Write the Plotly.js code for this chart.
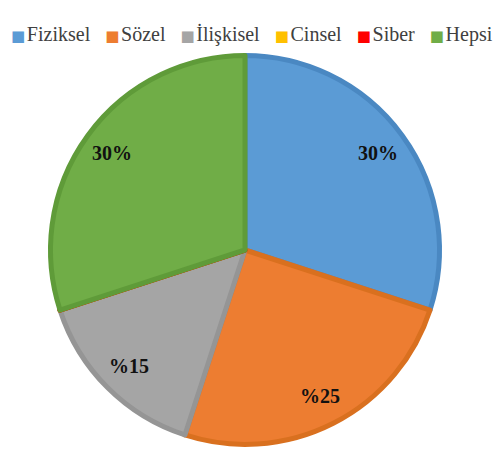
<!DOCTYPE html>
<html>
<head>
<meta charset="utf-8">
<script src="https://cdn.plot.ly/plotly-3.0.1.min.js"></script>
<style>html,body{margin:0;padding:0;background:#fff;}#chart{width:498px;height:459px;}</style>
</head>
<body>
<div id="chart"></div>
<script>
const categories = ["Fiziksel", "Sözel", "İlişkisel", "Cinsel", "Siber", "Hepsi"];
const values = [30, 25, 15, 0, 0, 30];
const valueLabels = ["30%", "%25", "%15", "", "", "30%"];
const colors = ["#5B9BD5", "#ED7D31", "#A5A5A5", "#FFC000", "#FF0000", "#70AD47"];
const borderColors = ["#4A88C2", "#D9701F", "#959595", "#E0A800", "#DD0000", "#5F9B39"];

const W = 498, H = 459;
const cx = 245, cy = 250, R = 194.5;
const serif = "Liberation Serif, Times New Roman, serif";

const trace = {
  type: "pie",
  labels: categories,
  values: values,
  textinfo: "none",
  sort: false,
  direction: "clockwise",
  rotation: 0,
  showlegend: false,
  marker: { colors: colors, line: { color: borderColors, width: 5 } },
  domain: { x: [(cx - R) / W, (cx + R) / W], y: [1 - (cy + R) / H, 1 - (cy - R) / H] },
  hoverinfo: "label+percent"
};

// slice labels placed along each slice's mid-angle (derived from the values)
const total = values.reduce((a, b) => a + b, 0);
const annotations = [];
let cum = 0;
values.forEach((v, i) => {
  const mid = (cum + v / 2) / total * 2 * Math.PI;
  cum += v;
  if (!valueLabels[i]) return;
  const f = 0.845;
  annotations.push({
    xref: "paper", yref: "paper",
    x: (cx + f * R * Math.sin(mid)) / W,
    y: 1 - (cy - f * R * Math.cos(mid)) / H,
    xanchor: "center", yanchor: "middle", showarrow: false,
    text: "<b>" + valueLabels[i] + "</b>",
    font: { family: serif, size: 20, color: "#111" }
  });
});

// legend row: colored squares + category names
const legendText = categories.map((c, i) =>
  '<span style="font-family:DejaVu Sans;font-size:15px;color:' + colors[i] + '">■</span>\u200A' + c
).join("\u2002\u2005");
annotations.push({
  xref: "paper", yref: "paper", x: 9 / W, y: 1 - 34 / H,
  xanchor: "left", yanchor: "middle", showarrow: false,
  text: legendText,
  font: { family: serif, size: 20, color: "#404040" }
});

const layout = {
  width: W, height: H,
  margin: { l: 0, r: 0, t: 0, b: 0 },
  paper_bgcolor: "#fff",
  showlegend: false,
  annotations: annotations
};

Plotly.newPlot("chart", [trace], layout, { displayModeBar: false, staticPlot: true });
</script>
</body>
</html>
